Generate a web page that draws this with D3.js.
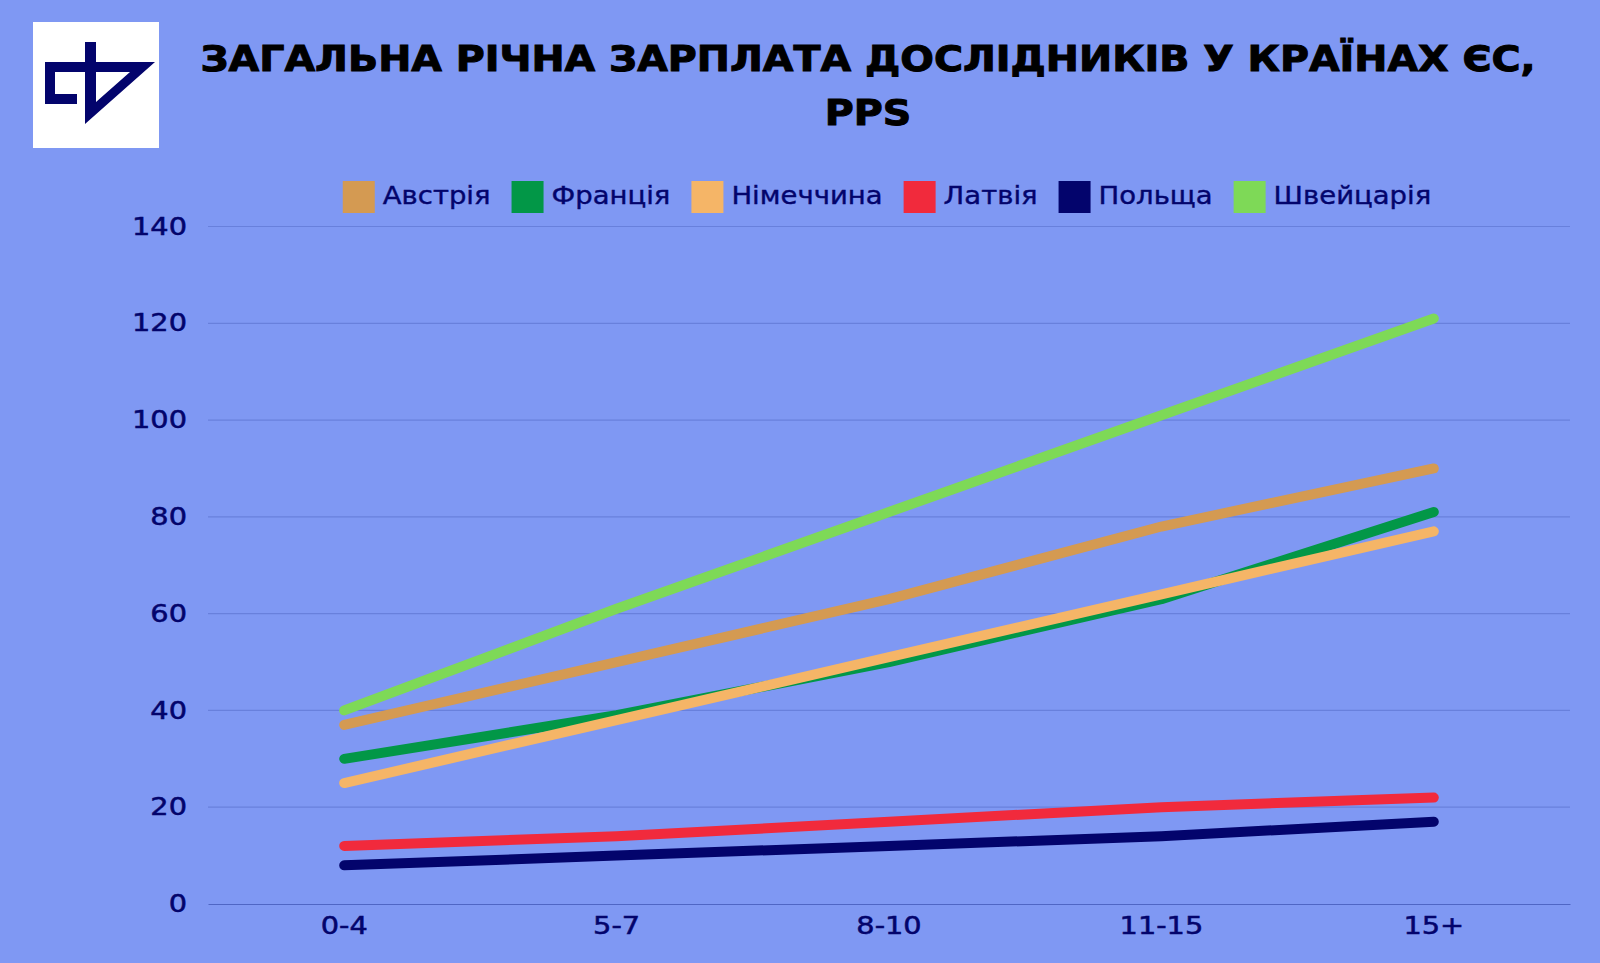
<!DOCTYPE html>
<html>
<head>
<meta charset="utf-8">
<script src="https://cdn.jsdelivr.net/npm/d3@7"></script>
<style>
  html, body { margin: 0; padding: 0; background: #7f98f3; overflow: hidden; }
  text { font-family: "DejaVu Sans", sans-serif; }
</style>
</head>
<body>
<svg id="chart" width="1600" height="963"></svg>
<script>
const titleLines = ["ЗАГАЛЬНА РІЧНА ЗАРПЛАТА ДОСЛІДНИКІВ У КРАЇНАХ ЄС,", "PPS"];
const years = ["0-4", "5-7", "8-10", "11-15", "15+"];
const yTicks = [0, 20, 40, 60, 80, 100, 120, 140];

const countries = ["Австрія", "Франція", "Німеччина", "Латвія", "Польща", "Швейцарія"];
const austria = [37, 50, 63, 78, 90];
const france = [30, 39, 50, 63, 81];
const germany = [25, 38, 51, 64, 77];
const latvia = [12, 14, 17, 20, 22];
const poland = [8, 10, 12, 14, 17];
const switzerland = [40, 61, 81, 101, 121];
const seriesValues = [austria, france, germany, latvia, poland, switzerland];
const colors = ["#d49a52", "#029747", "#f5b567", "#f12a3c", "#03046c", "#7ed957"];

const navy = "#03046c";
const svg = d3.select("#chart");

const x = d3.scaleBand().domain(years).range([208, 1570]);
const y = d3.scaleLinear().domain([0, 140]).range([904, 226.5]);

// the original font is wider than anything installed, so stretch the text
function stretch(sel, k) {
  sel.each(function () {
    const w = this.getComputedTextLength();
    d3.select(this).attr("textLength", w * k).attr("lengthAdjust", "spacingAndGlyphs");
  });
}

// logo
const logo = svg.append("g");
logo.append("rect").attr("x", 33).attr("y", 22).attr("width", 126).attr("height", 126).attr("fill", "#fff");
logo.append("path").attr("fill", navy).attr("fill-rule", "evenodd")
  .attr("d", "M85 42H96V62H155L85 124V72H55V94H77V104H45V62H85ZM96 72V102L130 72Z");

// title
svg.append("g").selectAll("text").data(titleLines).join("text")
  .attr("x", 868)
  .attr("y", (d, i) => 71 + i * 54)
  .attr("text-anchor", "middle")
  .attr("font-size", 36)
  .attr("font-weight", "bold")
  .attr("fill", "#000")
  .attr("stroke", "#000")
  .attr("stroke-width", 1)
  .text(d => d)
  .call(stretch, 1.1);

// grid
svg.append("g").selectAll("line").data(yTicks.slice(1)).join("line")
  .attr("x1", 208).attr("x2", 1570)
  .attr("y1", d => y(d)).attr("y2", d => y(d))
  .attr("stroke", "#6880dc").attr("stroke-width", 1.2);

// axes
const yAxis = svg.append("g").attr("transform", "translate(208,0)")
  .call(d3.axisLeft(y).tickValues(yTicks).tickSize(0).tickPadding(21));
const xAxis = svg.append("g").attr("transform", "translate(0,904)")
  .call(d3.axisBottom(x).tickSize(0).tickPadding(13));
yAxis.select(".domain").remove();
xAxis.select(".domain").attr("stroke", "#4f66c4").attr("stroke-width", 1.2);
[yAxis, xAxis].forEach(a => {
  a.selectAll("text")
    .attr("font-size", 24)
    .attr("fill", navy)
    .attr("stroke", navy)
    .attr("stroke-width", 0.5)
    .style("font-family", '"DejaVu Sans", sans-serif')
    .call(stretch, 1.2);
});

// lines
const line = d3.line()
  .x((d, i) => x(years[i]) + x.bandwidth() / 2)
  .y(d => y(d));

svg.append("g").selectAll("path").data(seriesValues).join("path")
  .attr("d", line)
  .attr("fill", "none")
  .attr("stroke", (d, i) => colors[i])
  .attr("stroke-width", 10)
  .attr("stroke-linecap", "round")
  .attr("stroke-linejoin", "round");

// legend, laid out left to right and then centred over the plot
const legend = svg.append("g");
let cursor = 0;
countries.forEach((name, i) => {
  const item = legend.append("g").attr("transform", `translate(${cursor},181)`);
  item.append("rect").attr("width", 32).attr("height", 32).attr("fill", colors[i]);
  const label = item.append("text")
    .attr("x", 40).attr("y", 23)
    .attr("font-size", 25)
    .attr("fill", navy)
    .attr("stroke", navy)
    .attr("stroke-width", 0.4)
    .text(name);
  const w = label.node().getComputedTextLength();
  label.call(stretch, 1.1);
  cursor += 40 + w * 1.1 + 21;
});
legend.attr("transform", `translate(${887 - (cursor - 21) / 2},0)`);
</script>
</body>
</html>
